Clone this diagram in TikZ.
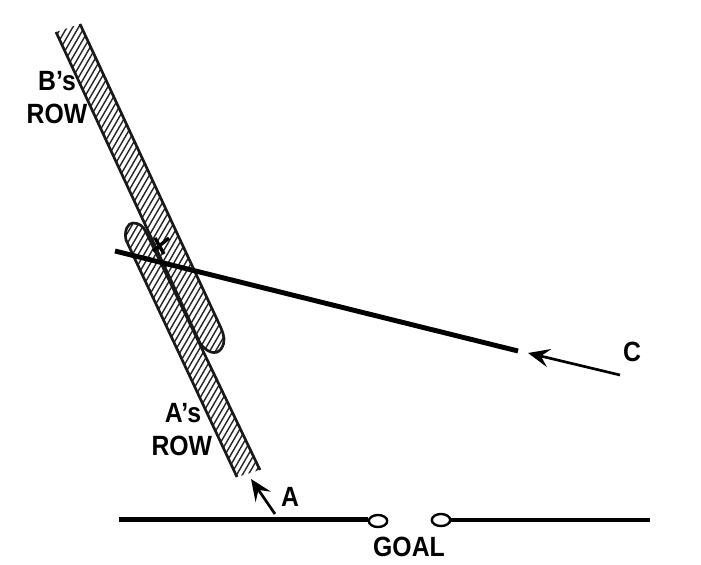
\documentclass[tikz,border=0pt]{standalone}
\usepackage{fontspec}
\setmainfont[FakeStretch=0.89]{Liberation Sans}
\usetikzlibrary{arrows.meta,positioning,shapes.geometric}

\begin{document}
\begin{tikzpicture}[
    x=0.025cm, y=-0.025cm,
    edge/.style={line width=1.9pt, black!90},
    hatchline/.style={line width=1pt, black!85},
    heavy/.style={line width=3.5pt},
    link/.style={-{Stealth[length=5.4mm, width=4.6mm, inset=2.1mm]}, line width=1.9pt},
    post/.style={draw, ellipse, line width=1.7pt, fill=white, minimum width=0.46cm, minimum height=0.3cm, inner sep=0pt},
    lbl/.style={font=\fontsize{19.8}{22}\selectfont\bfseries, inner sep=0pt}
]
\useasboundingbox (0,0) rectangle (701,564);
% the two rows
\def\brow{(56,32) -- (200,343) .. controls (206,352) and (216,356) .. (221,349) .. controls (226,342) and (224,335) .. (221,328) -- (80,24) -- cycle}
\def\arow{(237,477) -- (126,240) .. controls (124,230) and (128,223) .. (133,223) .. controls (139,223) and (143,226) .. (146,232) -- (260,470) -- cycle}
\foreach \rowpath in {\brow,\arow} {
  \begin{scope}
    \clip \rowpath;
    \foreach \x in {-300,-294.2,...,300}
      \draw[hatchline] (\x,500) -- ++(290,-500);
  \end{scope}
}
\draw[edge] (56,32) -- (200,343) .. controls (206,352) and (216,356) .. (221,349) .. controls (226,342) and (224,335) .. (221,328) -- (80,24);
\draw[edge] (237,477) -- (126,240) .. controls (124,230) and (128,223) .. (133,223) .. controls (139,223) and (143,226) .. (146,232) -- (260,470);
% the cross
\coordinate (m1) at (155,238);
\coordinate (m2) at (164,254);
\coordinate (m3) at (169,238);
\coordinate (m4) at (153,251);
\draw[line width=2.4pt] (m1) -- (m2);
\draw[line width=2.4pt] (m3) -- (m4);
% the shot line
\coordinate (s1) at (115,251);
\coordinate (s2) at (518,351);
\draw[heavy] (s1) -- (s2);
% goal
\node[post] (p1) at (378,521) {};
\node[post] (p2) at (441,520) {};
\coordinate (g1) at (119,519.5);
\coordinate (g2) at (650,520);
\draw[heavy] (g1) -- (g1 -| p1.west);
\draw[heavy] (p2.east) -- (g2);
\node[lbl] (goal) at (409,547) {GOAL};
% arrows and players
\coordinate (atail) at (275,514);
\coordinate (ahead) at (251,479);
\draw[link] (atail) -- (ahead);
\coordinate (ctail) at (620,375);
\coordinate (chead) at (528,353);
\draw[link] (ctail) -- (chead);
\node[lbl] (a) at (290,497) {A};
\node[lbl] (c) at (632,352) {C};
% row labels
\node[lbl] (bs) at (57,81) {B’s};
\node[lbl, below=0.33cm of bs.south] (brow) {ROW};
\node[lbl] (as) at (183,413) {A’s};
\node[lbl, below=0.33cm of as.south, xshift=-0.03cm] (arowlbl) {ROW};
\end{tikzpicture}
\end{document}
